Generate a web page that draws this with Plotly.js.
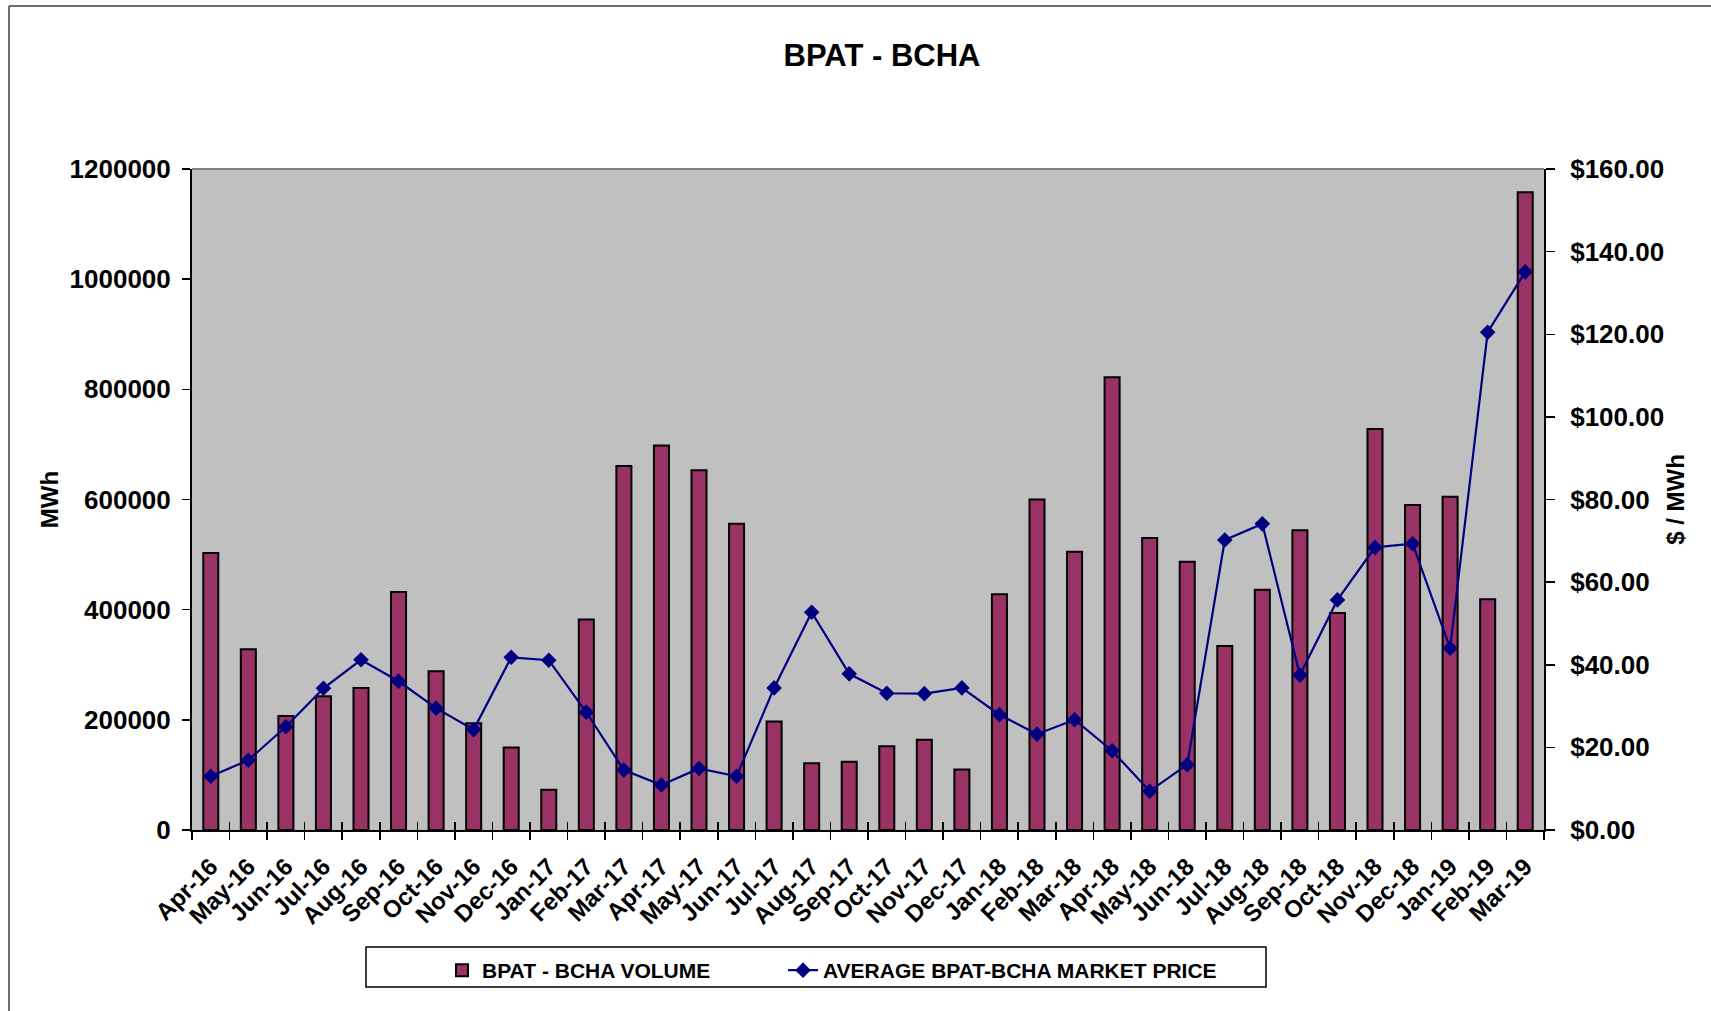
<!DOCTYPE html>
<html>
<head>
<meta charset="utf-8">
<script src="https://cdn.plot.ly/plotly-3.0.1.min.js"></script>
<style>
  html, body { margin: 0; padding: 0; background: #ffffff; }
  #chart { width: 1711px; height: 1011px; }
</style>
</head>
<body>
<div id="chart"></div>
<script>
// ---- Data ----
const months = ['Apr-16','May-16','Jun-16','Jul-16','Aug-16','Sep-16','Oct-16','Nov-16','Dec-16','Jan-17','Feb-17','Mar-17',
                'Apr-17','May-17','Jun-17','Jul-17','Aug-17','Sep-17','Oct-17','Nov-17','Dec-17','Jan-18','Feb-18','Mar-18',
                'Apr-18','May-18','Jun-18','Jul-18','Aug-18','Sep-18','Oct-18','Nov-18','Dec-18','Jan-19','Feb-19','Mar-19'];
const volumeMWh = [503000, 328000, 207000, 243000, 258000, 432000, 288000, 194000, 150000, 73000, 382000, 661000,
                   698000, 653000, 556000, 197000, 121000, 124000, 152000, 164000, 110000, 428000, 600000, 505000,
                   822000, 530000, 487000, 334000, 436000, 544000, 394000, 728000, 590000, 605000, 419000, 1158000];
const avgPrice = [13.0, 16.9, 25.0, 34.3, 41.2, 36.0, 29.5, 24.3, 41.8, 41.1, 28.5, 14.5,
                  10.9, 14.9, 13.0, 34.4, 52.7, 37.8, 33.1, 33.0, 34.4, 27.9, 23.2, 26.7,
                  19.2, 9.4, 15.8, 70.2, 74.1, 37.5, 55.7, 68.4, 69.3, 44.0, 120.5, 135.1];
const seriesNames = ['BPAT - BCHA VOLUME', 'AVERAGE BPAT-BCHA MARKET PRICE'];
const chartTitle = 'BPAT - BCHA';
const leftTitle = 'MWh';
const rightTitle = '$ / MWh';

// ---- Layout constants (pixels) ----
const W = 1711, H = 1011;
const M = { l: 192, r: 167, t: 169, b: 181 };
const PW = W - M.l - M.r, PH = H - M.t - M.b;
const px2x = x => (x - M.l) / PW;           // page px -> paper x
const px2y = y => (H - M.b - y) / PH;        // page px -> paper y

const FONT = 'Liberation Sans, Arial, Helvetica, sans-serif';
const legendFont = { family: FONT, size: 21, weight: 'bold', color: '#000' };
const catRange = [-0.5, months.length - 0.5];

const traces = [
  {
    type: 'bar',
    name: seriesNames[0],
    x: months,
    y: volumeMWh,
    xaxis: 'x',
    yaxis: 'y',
    legend: 'legend',
    marker: { color: '#993366', line: { color: '#000000', width: 2 } }
  },
  {
    type: 'scatter',
    mode: 'lines+markers',
    name: seriesNames[1],
    x: months,
    y: avgPrice,
    xaxis: 'x2',
    yaxis: 'y2',
    legend: 'legend2',
    line: { color: '#000080', width: 2.2 },
    marker: { symbol: 'diamond', size: 12, color: '#000080' }
  }
];

const layout = {
  width: W, height: H,
  margin: M,
  paper_bgcolor: '#ffffff',
  plot_bgcolor: '#c0c0c0',
  font: { family: FONT, color: '#000000', weight: 'bold' },
  showlegend: true,
  bargap: 0.6,
  title: {
    text: chartTitle,
    font: { family: FONT, size: 31, weight: 'bold', color: '#000' },
    x: 882 / W, xref: 'container', xanchor: 'center',
    y: 1 - 55 / H, yref: 'container', yanchor: 'middle'
  },
  xaxis: {
    type: 'category',
    range: catRange,
    showgrid: false,
    showline: true, linecolor: '#000', linewidth: 2,
    ticks: 'outside', tickson: 'boundaries', ticklen: 8, tickcolor: '#000', tickwidth: 1.5,
    tickangle: -45,
    tickfont: { family: FONT, size: 24, weight: 'bold' },
    ticklabelstandoff: 11
  },
  // twin of the category axis, used only to draw the inner half of Excel's "cross" tick marks
  xaxis2: {
    type: 'category',
    overlaying: 'x', anchor: 'y', side: 'bottom',
    range: catRange,
    showgrid: false, showline: false, zeroline: false,
    ticks: 'inside', tickson: 'boundaries', ticklen: 8, tickcolor: '#000', tickwidth: 1.5,
    showticklabels: false
  },
  yaxis: {
    range: [0, 1200000], dtick: 200000, tickformat: 'd',
    showgrid: false, zeroline: false,
    showline: true, linecolor: '#000', linewidth: 2,
    ticks: 'outside', ticklen: 8, tickcolor: '#000', tickwidth: 1.5,
    tickfont: { family: FONT, size: 26, weight: 'bold' },
    ticklabelstandoff: 6,
    title: { text: leftTitle, font: { family: FONT, size: 24, weight: 'bold' }, standoff: 4 }
  },
  yaxis2: {
    overlaying: 'y', side: 'right', anchor: 'x',
    range: [0, 160], dtick: 20, tickprefix: '$', tickformat: '.2f',
    showgrid: false, zeroline: false,
    showline: true, linecolor: '#000', linewidth: 2,
    ticks: 'outside', ticklen: 9, tickcolor: '#000', tickwidth: 1.5,
    tickfont: { family: FONT, size: 26, weight: 'bold' },
    ticklabelstandoff: 10,
    title: { text: rightTitle, font: { family: FONT, size: 24, weight: 'bold' }, standoff: 4 }
  },
  legend: {
    orientation: 'h',
    x: px2x(442), xanchor: 'left',
    y: px2y(950), yanchor: 'top',
    bgcolor: 'rgba(0,0,0,0)', borderwidth: 0,
    font: legendFont
  },
  legend2: {
    orientation: 'h',
    x: px2x(783), xanchor: 'left',
    y: px2y(950), yanchor: 'top',
    bgcolor: 'rgba(0,0,0,0)', borderwidth: 0,
    font: legendFont
  },
  shapes: [
    // plot-area top border (grey)
    { type: 'line', xref: 'paper', yref: 'paper', x0: 0, x1: 1, y0: 1, y1: 1,
      line: { color: '#808080', width: 2 } },
    // legend box
    { type: 'rect', xref: 'paper', yref: 'paper',
      x0: px2x(366), x1: px2x(1266), y0: px2y(947), y1: px2y(987),
      line: { color: '#000', width: 1.5 }, fillcolor: 'rgba(0,0,0,0)' },
    // outer chart frame (top and left edges)
    { type: 'line', xref: 'paper', yref: 'paper',
      x0: px2x(9), x1: px2x(W + 10), y0: px2y(6), y1: px2y(6),
      line: { color: '#404040', width: 1.5 } },
    { type: 'line', xref: 'paper', yref: 'paper',
      x0: px2x(9), x1: px2x(9), y0: px2y(6), y1: px2y(H + 10),
      line: { color: '#404040', width: 1.5 } }
  ]
};

Plotly.newPlot('chart', traces, layout, { staticPlot: true, displayModeBar: false });
</script>
</body>
</html>
